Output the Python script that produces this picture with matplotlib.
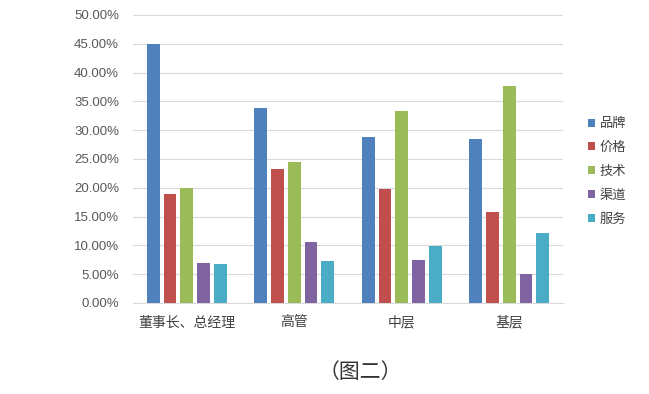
import numpy as np
import matplotlib.pyplot as plt
from matplotlib.ticker import FuncFormatter

plt.rcParams['font.family'] = ['Liberation Sans', 'Noto Sans CJK SC', 'DejaVu Sans']

categories = ["董事长、总经理", "高管", "中层", "基层"]
series = ["品牌", "价格", "技术", "渠道", "服务"]
brand = [45.0, 33.8, 28.9, 28.4]
price = [19.0, 23.2, 19.8, 15.8]
tech = [20.0, 24.4, 33.3, 37.6]
channel = [6.9, 10.6, 7.4, 5.1]
service = [6.8, 7.3, 9.9, 12.1]
values = [brand, price, tech, channel, service]
colors = ["#4F81BD", "#C0504D", "#9BBB59", "#8064A2", "#4BACC6"]

fig = plt.figure(figsize=(6.49, 3.94), dpi=100)
ax = fig.add_axes([0.205, 0.231, 0.6625, 0.731])

x = np.arange(len(categories))
step = 0.156
width = 0.12
for i, (name, vals, c) in enumerate(zip(series, values, colors)):
    ax.bar(x + (i - 2) * step, vals, width, color=c, label=name, zorder=3)

ax.set_xlim(-0.5, 3.5)
ax.set_ylim(0, 50)
ax.set_yticks(np.arange(0, 50.1, 5))
ax.yaxis.set_major_formatter(FuncFormatter(lambda v, p: "%.2f%%" % v))
ax.yaxis.grid(True, color="#D9D9D9", linewidth=0.8, zorder=0)
ax.set_xticks(x)
ax.set_xticklabels(categories, fontsize=10, color="#404040")
ax.tick_params(axis="y", length=0, labelsize=9.5, labelcolor="#595959", pad=10)
ax.tick_params(axis="x", length=0, pad=9)
for s in ["top", "right", "left"]:
    ax.spines[s].set_visible(False)
ax.spines["bottom"].set_color("#D9D9D9")

leg = ax.legend(loc="upper left", bbox_to_anchor=(1.045, 0.66), frameon=False,
                fontsize=9.5, handlelength=0.55, handleheight=0.55, handletextpad=0.35,
                labelspacing=0.87, borderaxespad=0)
for t in leg.get_texts():
    t.set_color("#404040")

fig.text(0.555, 0.055, "（图二）", ha="center", va="center", fontsize=15, color="#333333",
         family=["Noto Sans CJK SC", "DejaVu Sans"])

fig.savefig("out.png", dpi=100)
